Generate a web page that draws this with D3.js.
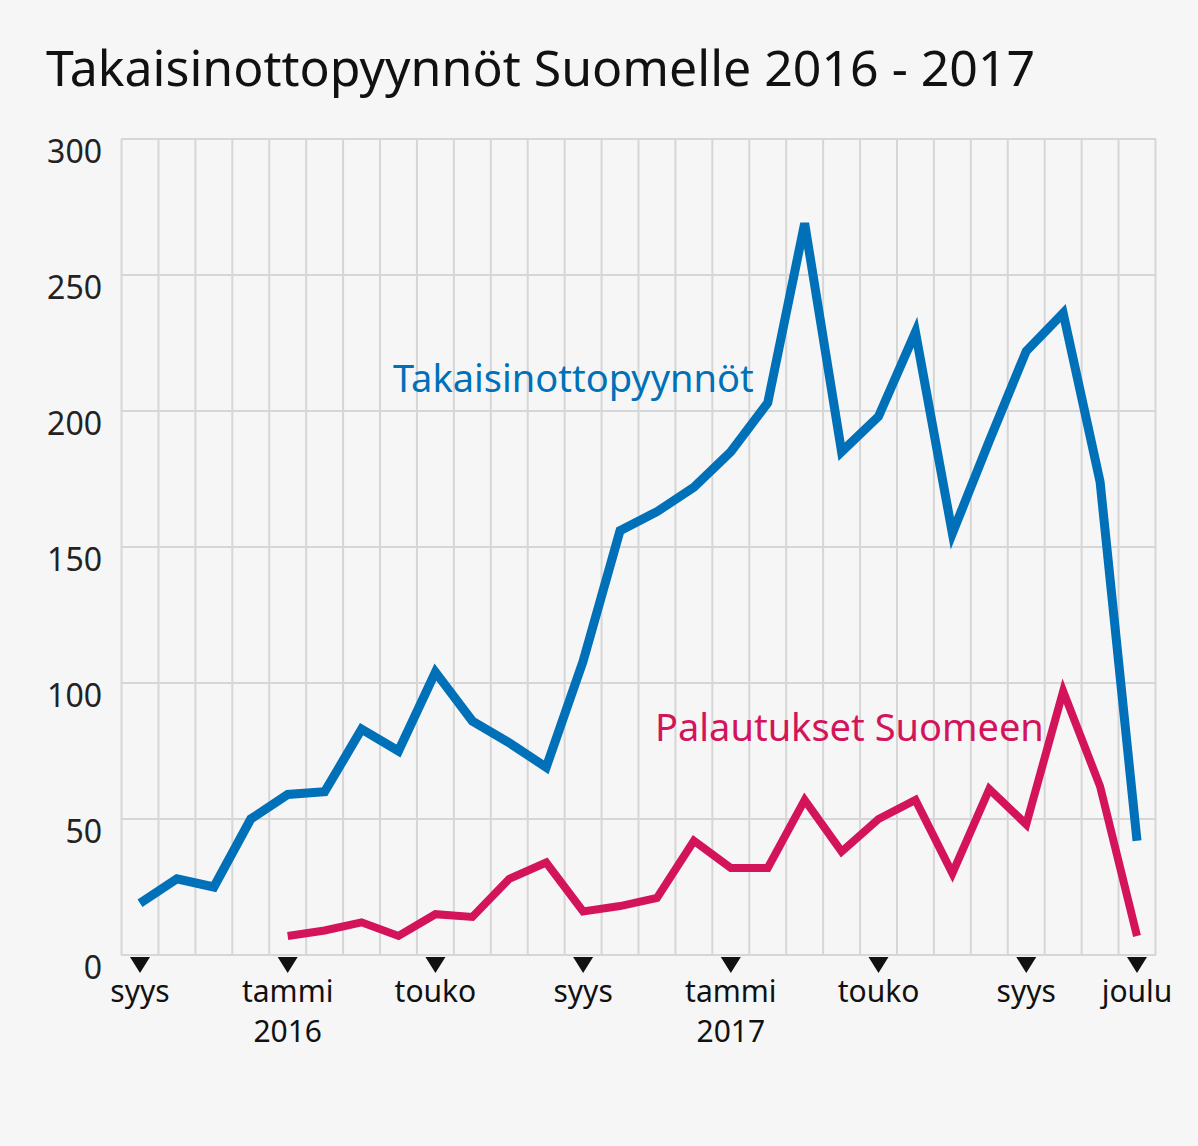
<!DOCTYPE html>
<html><head><meta charset="utf-8">
<script src="https://cdn.jsdelivr.net/npm/d3@7"></script>
<style>
body{margin:0;background:#f6f6f6;}
svg{font-family:"Noto Sans",sans-serif;}
</style></head><body>
<svg width="1198" height="1146"></svg>
<script>
var months = d3.range(28); // syys 2015 .. joulu 2017
var pyynnot = [19,28,25,50,59,60,83,75,104,86,78,69,108,156,163,172,185,203,269,185,198,229,155,189,222,236,174,42];
var palautukset = [null,null,null,null,7,9,12,7,15,14,28,34,16,18,21,42,32,32,57,38,50,57,30,61,48,97,62,7];
var yTicks = [0,50,100,150,200,250,300];
var xLabels = [
	{i:0, t:["syys"]}, {i:4, t:["tammi","2016"]}, {i:8, t:["touko"]}, {i:12, t:["syys"]},
	{i:16, t:["tammi","2017"]}, {i:20, t:["touko"]}, {i:24, t:["syys"]}, {i:27, t:["joulu"]}
];

var svg = d3.select("svg");
svg.append("rect").attr("width",1198).attr("height",1146).attr("fill","#f6f6f6");

var x = d3.scaleLinear().domain([0,27]).range([140,1137]);
var y = d3.scaleLinear().domain([0,300]).range([955,139]);

svg.append("text").text("Takaisinottopyynnöt Suomelle 2016 - 2017")
	.attr("x",46).attr("y",86).attr("font-size",50).attr("fill","#111");

// vertical grid
var g = svg.append("g").attr("stroke","#d6d6d6").attr("stroke-width",2);
d3.range(29).forEach(function(k){
	var xx = x(k-0.5);
	if (xx > 1156) return;
	g.append("line").attr("x1",xx).attr("x2",xx).attr("y1",139).attr("y2",955);
});
yTicks.forEach(function(v){
	g.append("line").attr("x1",121).attr("x2",1156).attr("y1",y(v)).attr("y2",y(v));
	svg.append("text").text(v).attr("x",102).attr("y",y(v)+24)
		.attr("text-anchor","end").attr("font-size",32).attr("fill","#222");
});

xLabels.forEach(function(d){
	var xx = x(d.i);
	svg.append("path").attr("d","M"+(xx-10)+",957L"+(xx+10)+",957L"+xx+",973Z").attr("fill","#111");
	d.t.forEach(function(t,j){
		svg.append("text").text(t).attr("x",xx).attr("y",1002+j*40)
			.attr("text-anchor","middle").attr("font-size",30).attr("fill","#111");
	});
});

var line = d3.line().defined(function(d){return d!=null;})
	.x(function(d,i){return x(i);}).y(function(d){return y(d);});

svg.append("path").datum(pyynnot).attr("d",line).attr("fill","none")
	.attr("stroke","#0070b8").attr("stroke-width",9).attr("stroke-linejoin","miter");
svg.append("path").datum(palautukset).attr("d",line).attr("fill","none")
	.attr("stroke","#d4145a").attr("stroke-width",8).attr("stroke-linejoin","miter");

svg.append("text").text("Takaisinottopyynnöt").attr("x",393).attr("y",392)
	.attr("font-size",38).attr("fill","#0070b8");
svg.append("text").text("Palautukset Suomeen").attr("x",655).attr("y",741)
	.attr("font-size",38).attr("fill","#d4145a");
</script>
</body></html>
